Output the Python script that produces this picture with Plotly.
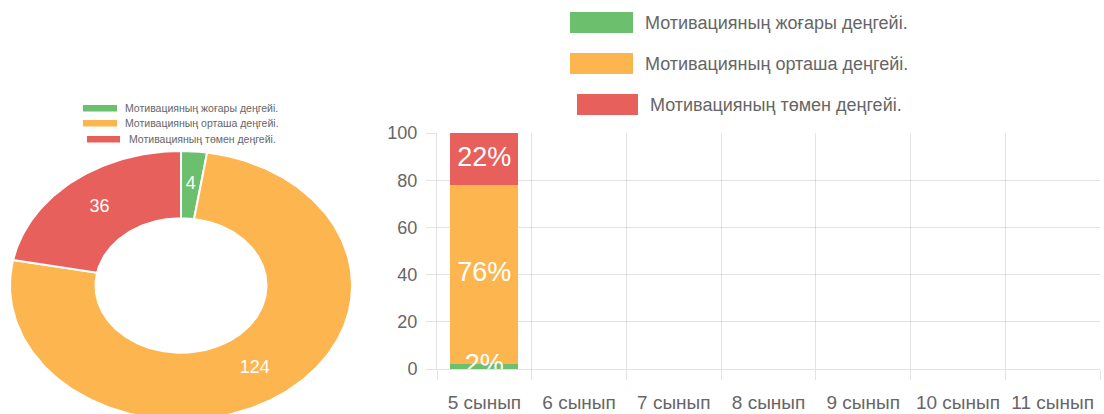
import numpy as np
import plotly.graph_objects as go

# ---- data ----
levels = ["Мотивацияның жоғары деңгейі.",
          "Мотивацияның орташа деңгейі.",
          "Мотивацияның төмен деңгейі."]
colors = ["#6bbf6d", "#fdb64f", "#e8605b"]

# donut: number of pupils per level
donut_counts = [4, 124, 36]

# stacked bars: percentage per level for each class
classes = ["5 сынып", "6 сынып", "7 сынып", "8 сынып", "9 сынып", "10 сынып", "11 сынып"]
pct_high = [2, None, None, None, None, None, None]
pct_mid = [76, None, None, None, None, None, None]
pct_low = [22, None, None, None, None, None, None]
y_ticks = [0, 20, 40, 60, 80, 100]

W, H = 1104, 414
GRID = "rgba(0,0,0,0.11)"
TXT = "#666666"
SANS = "Liberation Sans, Arial, sans-serif"


def px(x):
    return x / W


def py(y):
    return 1 - y / H


fig = go.Figure()

# ---- donut (ellipse in axis units, clockwise from 12 o'clock) ----
cx_pix, cy_pix, rx_pix, ry_pix = 181, 285.5, 171, 134.5
inner = 0.5
total = sum(donut_counts)
start = 0.0
for name, val, col in zip(levels, donut_counts, colors):
    a0 = start / total * 2 * np.pi
    a1 = (start + val) / total * 2 * np.pi
    n = max(int(val / total * 360), 4)
    t = np.linspace(a0, a1, n)
    xs = np.concatenate([np.sin(t), inner * np.sin(t[::-1]), [np.sin(t[0])]])
    ys = np.concatenate([np.cos(t), inner * np.cos(t[::-1]), [np.cos(t[0])]])
    fig.add_trace(go.Scatter(x=xs, y=ys, fill="toself", fillcolor=col, mode="lines",
                             line=dict(color="white", width=2), hoverinfo="skip",
                             showlegend=False, xaxis="x2", yaxis="y2"))
    am = (a0 + a1) / 2
    fig.add_trace(go.Scatter(x=[0.75 * np.sin(am)], y=[0.75 * np.cos(am)], mode="text",
                             text=[str(val)], textposition="middle center",
                             textfont=dict(color="white", size=18, family=SANS),
                             hoverinfo="skip", showlegend=False, xaxis="x2", yaxis="y2"))
    start += val

# ---- stacked percentage bars ----
series = [pct_high, pct_mid, pct_low]
for name, vals, col in zip(levels, series, colors):
    fig.add_trace(go.Bar(x=classes, y=vals, name=name, marker=dict(color=col, line=dict(width=0)),
                         width=0.72, hoverinfo="skip", showlegend=False))

# percentage labels at the middle of each segment
lx, ly, lt = [], [], []
for i, c in enumerate(classes):
    base = 0
    for vals in series:
        v = vals[i]
        if v is None:
            continue
        lx.append(c)
        ly.append(base + v / 2)
        lt.append(f"{v}%")
        base += v
fig.add_trace(go.Scatter(x=lx, y=ly, text=lt, mode="text", textposition="middle center",
                         textfont=dict(color="white", size=27, family=SANS),
                         hoverinfo="skip", showlegend=False, cliponaxis=False))

# ---- legends drawn as boxes + text ----
shapes, annotations = [], []
big_rows = [(570, 633, 12, 33, 643), (570, 633, 53, 74, 643), (577, 638, 94, 115, 648)]
small_rows = [(83, 117, 105, 111.5, 123), (83, 117, 120, 126.5, 123), (87, 120, 136, 142.5, 127)]
for (x0, x1, y0, y1, tx), name, col in zip(big_rows, levels, colors):
    shapes.append(dict(type="rect", xref="paper", yref="paper", x0=px(x0), x1=px(x1),
                       y0=py(y1), y1=py(y0), fillcolor=col, line=dict(width=0), layer="above"))
    annotations.append(dict(xref="paper", yref="paper", x=px(tx), y=py((y0 + y1) / 2),
                            text=name, showarrow=False, xanchor="left", yanchor="middle",
                            font=dict(size=18, color=TXT, family=SANS)))
for (x0, x1, y0, y1, tx), name, col in zip(small_rows, levels, colors):
    shapes.append(dict(type="rect", xref="paper", yref="paper", x0=px(x0), x1=px(x1),
                       y0=py(y1), y1=py(y0), fillcolor=col, line=dict(width=0), layer="above"))
    annotations.append(dict(xref="paper", yref="paper", x=px(tx), y=py((y0 + y1) / 2),
                            text=name, showarrow=False, xanchor="left", yanchor="middle",
                            font=dict(size=10.5, color=TXT, family=SANS)))

# ---- axes ----
dx_dom = [0, 362 / W]
xr = 181 / rx_pix
yb = (H - cy_pix) / ry_pix
yt = cy_pix / ry_pix

fig.update_layout(
    template="none",
    width=W, height=H,
    margin=dict(l=0, r=0, t=0, b=0, pad=0, autoexpand=False),
    paper_bgcolor="white", plot_bgcolor="white",
    barmode="stack",
    showlegend=False,
    shapes=shapes,
    annotations=annotations,
    xaxis=dict(domain=[px(437), px(1100)], type="category", range=[-0.5, 6.5],
               tickson="boundaries", showgrid=True, gridcolor=GRID, gridwidth=1,
               ticks="outside", ticklen=10, tickcolor=GRID, tickwidth=1,
               showline=True, linecolor=GRID, linewidth=1, automargin=False,
               tickfont=dict(size=19, color=TXT, family=SANS), ticklabelstandoff=16,
               fixedrange=True),
    yaxis=dict(domain=[py(369), py(133)], range=[0, 100], tickvals=y_ticks,
               showgrid=True, gridcolor=GRID, gridwidth=1, zeroline=False,
               ticks="outside", ticklen=10, tickcolor=GRID, tickwidth=1,
               showline=True, linecolor=GRID, linewidth=1, automargin=False,
               tickfont=dict(size=18, color=TXT, family=SANS), ticklabelstandoff=5,
               fixedrange=True),
    xaxis2=dict(domain=dx_dom, range=[-xr, xr], visible=False, fixedrange=True,
                anchor="y2", automargin=False),
    yaxis2=dict(domain=[0, 1], range=[-yb, yt], visible=False, fixedrange=True,
                anchor="x2", automargin=False),
)

fig.write_html("out.html")
